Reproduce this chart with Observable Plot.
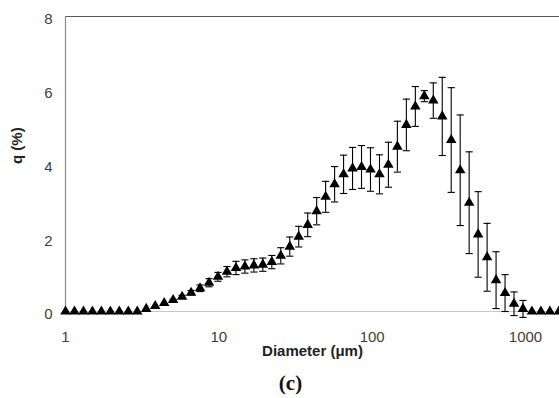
<!DOCTYPE html>
<html>
<head>
<meta charset="utf-8">
<script src="https://cdn.jsdelivr.net/npm/d3@7"></script>
<script src="https://cdn.jsdelivr.net/npm/@observablehq/plot@0.6"></script>
<style>
  html, body { margin: 0; padding: 0; background: #fff; }
  #chart { width: 559px; height: 398px; overflow: hidden; }
</style>
</head>
<body>
<div id="chart"></div>
<script>
const diameters = [1.000, 1.144, 1.309, 1.498, 1.714, 1.961, 2.244, 2.568, 2.938, 3.361,
  3.846, 4.401, 5.035, 5.761, 6.592, 7.543, 8.630, 9.874, 11.30, 12.93,
  14.79, 16.93, 19.36, 22.16, 25.35, 29.01, 33.19, 37.98, 43.45, 49.72,
  56.89, 65.09, 74.47, 85.21, 97.50, 111.6, 127.6, 146.0, 167.1, 191.2,
  218.8, 250.3, 286.4, 327.7, 375.0, 429.0, 490.9, 561.7, 642.7, 735.4,
  841.4, 962.7, 1101, 1260, 1442, 1650];
const qValues = [0, 0, 0, 0, 0, 0, 0, 0, 0, 0.07,
  0.15, 0.23, 0.31, 0.40, 0.51, 0.63, 0.78, 0.94, 1.08, 1.18,
  1.22, 1.25, 1.27, 1.34, 1.51, 1.76, 2.03, 2.35, 2.72, 3.11,
  3.45, 3.72, 3.88, 3.92, 3.85, 3.72, 3.98, 4.47, 5.06, 5.56,
  5.84, 5.72, 5.29, 4.65, 3.83, 2.95, 2.09, 1.47, 0.85, 0.50,
  0.21, 0.07, 0, 0, 0, 0];
const errors = [0, 0, 0, 0, 0, 0, 0, 0, 0, 0,
  0, 0, 0.02, 0.04, 0.06, 0.09, 0.11, 0.12, 0.14, 0.18,
  0.18, 0.18, 0.18, 0.18, 0.22, 0.26, 0.28, 0.32, 0.37, 0.42,
  0.48, 0.52, 0.57, 0.58, 0.59, 0.53, 0.61, 0.69, 0.70, 0.54,
  0.15, 0.48, 1.06, 1.42, 1.50, 1.38, 1.16, 0.92, 0.77, 0.50,
  0.32, 0.23, 0, 0, 0, 0];
const xTicks = [1, 10, 100, 1000];
const yTicks = [0, 2, 4, 6, 8];

const rows = diameters.map((d, i) => ({d, q: qValues[i], e: errors[i]}));
const withErr = rows.filter(r => r.e > 0);
const caps = withErr.flatMap(r => [{d: r.d, y: r.q + r.e}, {d: r.d, y: r.q - r.e}]);

const capSymbol = {
  draw(context) {
    context.moveTo(-3.6, 0);
    context.lineTo(3.6, 0);
  }
};

const chart = Plot.plot({
  width: 559,
  height: 398,
  marginLeft: 65,
  marginRight: 0,
  marginTop: 16,
  marginBottom: 87,
  style: {fontFamily: "'Liberation Sans', Arial, sans-serif", fontSize: "15px", color: "#404040", background: "#fff"},
  x: {type: "log", domain: [1, 1666], label: null},
  y: {domain: [0, 8], label: null},
  marks: [
    Plot.axisX({ticks: xTicks, tickFormat: d => String(d), tickSize: 0, tickPadding: 20, label: null}),
    Plot.axisY({ticks: yTicks, tickSize: 0, tickPadding: 13, dy: 3, label: null}),
    Plot.ruleY([0], {stroke: "#c8c8c8", strokeWidth: 1.2}),
    Plot.ruleY([8], {stroke: "#5a5a5a", strokeWidth: 1.2}),
    Plot.ruleX([1], {stroke: "#8c8c8c", strokeWidth: 1.2}),
    Plot.ruleX(withErr, {x: "d", y1: r => r.q - r.e, y2: r => r.q + r.e, stroke: "black", strokeWidth: 1.1}),
    Plot.dot(caps, {x: "d", y: "y", symbol: capSymbol, stroke: "black", fill: "none", strokeWidth: 1.1, r: 3}),
    Plot.dot(rows, {x: "d", y: "q", symbol: "triangle", fill: "black", stroke: "none", r: 3.9}),
    Plot.text(["Diameter (μm)"], {frameAnchor: "bottom", dy: 44, fontWeight: "bold", fontSize: 15, fill: "#222"}),
    Plot.text(["q (%)"], {frameAnchor: "left", dx: -48, rotate: -90, fontWeight: "bold", fontSize: 15, fill: "#222"}),
    Plot.text(["(c)"], {frameAnchor: "bottom", dx: -22, dy: 78, fontFamily: "'Liberation Serif', serif", fontWeight: "bold", fontSize: 21, fill: "#111"})
  ]
});
document.getElementById("chart").append(chart);
</script>
</body>
</html>
